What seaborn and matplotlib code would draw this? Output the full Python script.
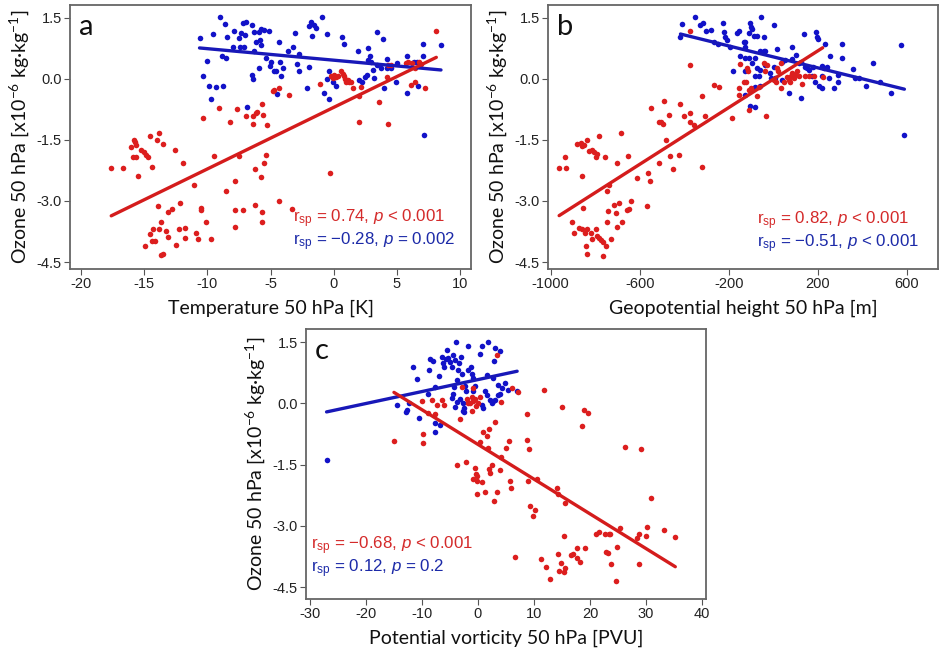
import matplotlib
matplotlib.use("Agg")
import matplotlib.pyplot as plt
import seaborn as sns
import pandas as pd

# ---------------- data ----------------
# Panel a: Temperature 50 hPa [K] vs ozone
a_red_x = [-17.63,-16.70,-15.83,-15.78,-16.04,-15.65,-15.30,-15.04,-14.85,-14.72,-15.91,-15.70,-15.51,-14.59,-14.04,-13.85,-13.53,-14.41,-12.61,-11.95,-11.03,-10.55,-10.50,-10.13,-9.71,-10.76,-10.92,-11.77,-11.77,-12.27,-12.48,-12.21,-12.82,-13.09,-13.32,-13.14,-13.85,-13.67,-13.93,-14.33,-14.59,-14.41,-14.14,-14.93,-13.72,-13.51,-10.37,-9.52,-9.10,-8.52,-8.18,-7.78,-7.81,-7.81,-7.65,-7.46,-7.15,-6.94,-6.36,-6.36,-6.14,-6.22,-6.07,-5.77,-5.64,-5.59,-5.51,-5.33,-5.25,-6.22,-5.67,-5.64,-4.82,
           8.15,-4.75,-4.30,-3.51,-1.06,-0.21,-0.08,0.05,0.18,0.37,0.58,0.71,0.79,0.90,0.98,1.11,1.24,1.42,1.58,2.16,2.03,1.98,3.59,4.28,4.33,4.54,4.22,5.73,5.91,6.25,6.44,6.78,6.91,6.12,6.44,7.26,-0.26,-4.33,-3.30]
a_red_y = [-2.20,-2.18,-1.50,-1.56,-1.67,-1.63,-1.76,-1.81,-1.86,-1.92,-1.92,-1.92,-2.39,-1.41,-1.50,-1.32,-1.61,-2.17,-1.76,-2.07,-2.61,-3.18,-3.21,-3.52,-3.93,-3.93,-3.78,-3.67,-3.91,-3.70,-4.09,-3.05,-3.19,-3.28,-3.74,-3.88,-3.70,-3.52,-3.13,-3.69,-3.81,-3.99,-3.99,-4.11,-4.33,-4.31,-0.96,-1.90,-0.71,-2.75,-1.07,-2.50,-3.23,-3.64,-0.74,-1.90,-3.23,-0.91,-0.92,-1.10,-0.84,-2.21,-0.82,-2.41,-0.63,-0.89,-2.08,-1.86,-1.13,-3.11,-3.26,-3.52,-0.29,
           1.16,-0.27,-0.23,-0.39,-0.14,0.06,0.02,0.10,0.04,0.07,0.18,0.12,0.06,-0.01,-0.07,-0.02,-0.09,-0.09,-0.23,-0.20,-0.43,-1.07,-0.56,-1.12,0.34,0.34,0.04,0.38,0.41,0.38,0.26,0.40,0.36,-0.16,-0.07,-0.23,-2.31,-3.01,-3.19]
a_blue_x = [-10.63,-9.55,-9.02,-8.60,-8.41,-7.91,-7.49,-7.31,-7.44,-7.07,-7.04,-7.17,-6.91,-6.49,-6.30,-6.17,-5.91,-5.75,-5.54,-5.85,-5.77,-6.33,-7.97,-8.81,-8.55,-10.05,-10.37,-9.89,-9.31,-8.78,-9.68,-6.86,-6.46,-6.38,-5.88,-5.38,-5.01,-4.75,
            -5.09,-4.36,-3.64,-3.25,-3.06,-2.72,-1.93,-1.80,-1.53,-1.40,-0.92,-1.72,-0.55,0.66,0.79,1.95,3.43,3.93,2.77,2.90,2.77,2.96,3.14,3.43,3.75,4.20,4.27,4.59,5.07,5.81,6.39,6.65,7.07,7.13,8.52,-4.96,-4.57,-4.22,-4.04,-4.17,-4.51,-2.90,-2.72,-1.98,-2.11,-0.79,-0.34,-0.48,-0.34,-0.08,0.18,2.03,2.24,2.48,2.64,3.22,4.01,4.99,5.86,6.73,7.18]
a_blue_y = [1.00,1.09,1.51,1.34,1.02,1.18,1.01,1.12,0.78,0.78,1.07,1.36,1.40,1.32,1.15,0.91,1.14,1.22,1.20,0.96,0.82,0.67,0.77,0.56,0.50,0.44,0.07,-0.19,-0.20,-0.19,-0.50,-0.70,0.08,-0.01,0.27,0.51,0.32,0.18,
            1.18,0.91,0.67,0.77,1.12,0.60,1.30,1.40,1.32,1.24,1.51,1.05,1.10,1.02,0.86,0.67,1.14,0.98,0.75,0.55,0.45,0.42,0.22,0.34,0.26,0.48,0.26,0.26,0.38,0.56,0.42,0.42,0.85,0.55,0.82,0.40,0.18,0.42,0.26,0.06,-0.37,0.36,0.20,0.30,-0.23,-0.35,-0.50,0.00,0.18,-0.07,-0.19,-0.02,-0.09,0.04,0.10,0.03,-0.23,-0.07,-0.35,-0.17,-1.37]

# Panel b: Geopotential height 50 hPa [m] vs ozone
b_red_x = [-962,-933,-937,-883,-865,-858,-850,-835,-828,-813,-806,-798,-791,-783,-758,-861,-704,-683,-653,-738,-746,-611,-563,-554,-514,-465,-451,-423,-484,-506,-495,-514,-548,-492,-469,-417,-402,-375,-375,-357,-320,-308,-320,-372,-372,-267,-243,-185,-155,-155,-148,-133,
           -853,-903,-895,-873,-858,-847,-835,-818,-813,-798,-791,-783,-776,-764,-753,-764,-843,-838,-731,-746,-743,-716,-693,-708,-701,-679,-659,-649,-638,-566,
           -118,-113,-122,-110,-98,-66,-108,-31,-43,-28,-36,17,21,2,14,36,46,61,69,76,81,84,91,99,106,114,129,144,159,181,36,-73,222]
b_red_y = [-2.20,-2.18,-1.92,-1.61,-1.58,-1.66,-1.63,-1.50,-1.78,-1.76,-1.81,-1.92,-1.84,-1.41,-1.92,-2.39,-2.07,-1.32,-1.89,-2.61,-2.75,-2.43,-2.31,-2.51,-2.08,-1.90,-2.21,-1.86,-1.50,-1.07,-1.12,-1.05,-0.71,-0.55,-0.88,-0.63,-0.92,-0.83,-1.07,-1.13,-0.43,-0.91,-2.17,0.34,1.16,-0.16,-0.20,-0.96,-0.23,-0.39,0.37,-0.07,
           -3.18,-3.52,-3.78,-3.67,-3.70,-3.78,-3.70,-3.78,-3.93,-3.70,-3.87,-3.91,-3.96,-4.01,-4.11,-4.34,-4.11,-4.31,-3.93,-3.52,-3.24,-3.11,-3.05,-3.29,-3.64,-3.52,-3.21,-3.19,-3.01,-3.13,
           0.26,0.18,-0.07,-0.27,-0.23,-0.20,-0.76,-0.91,0.38,0.34,0.18,0.26,0.20,-0.02,-0.07,-0.23,-0.07,0.04,-0.02,-0.09,0.07,0.14,0.02,0.10,0.18,0.07,-0.12,0.06,0.07,0.07,0.38,-0.43,0.05]
b_blue_x = [-417,-409,-350,-330,-317,-300,-279,-267,-248,-223,-226,-215,-208,-196,-163,-155,-133,-181,-151,-125,-125,-128,
            -103,-99,-96,-54,-111,-88,-73,-43,2,-125,-125,-58,-43,-36,17,84,102,84,54,39,136,191,196,203,233,308,573,-111,-81,-96,-73,-58,-36,2,-13,-81,-66,-81,-103,-84,-58,-9,9,39,69,124,117,126,144,151,159,177,218,226,241,173,218,186,206,218,251,256,271,293,290,308,357,365,383,417,450,480,529,589]
b_blue_y = [1.02,1.34,1.51,1.32,1.36,1.18,1.20,0.91,0.86,1.14,1.38,1.02,0.96,0.79,1.12,1.16,0.91,0.20,0.56,0.51,0.18,-0.39,
            1.38,1.28,1.22,1.51,1.12,1.04,1.05,1.02,1.32,0.91,0.79,0.67,0.67,0.69,0.73,0.77,0.59,0.48,0.47,0.40,1.10,1.14,1.02,0.97,0.86,0.85,0.82,0.51,0.51,0.38,0.26,0.22,0.34,0.30,0.15,0.06,0.06,-0.20,-0.66,-0.69,-0.17,0.02,0.02,-0.04,-0.35,-0.48,0.38,0.42,0.30,0.26,0.22,0.30,0.32,0.26,0.29,0.07,0.07,-0.07,-0.17,-0.23,0.02,0.55,-0.23,0.10,-0.09,0.51,0.24,0.03,0.02,-0.17,0.38,-0.09,-0.35,-1.37]

# Panel c: Potential vorticity 50 hPa [PVU] vs ozone
c_red_x = [-15.0,-9.87,-9.75,-8.86,-7.61,-10.05,-8.26,-7.37,-6.00,-6.48,-3.20,-2.90,-2.01,-1.71,-1.41,-1.12,-0.94,-0.82,-0.52,-0.34,-1.12,0.08,0.37,0.85,1.56,2.04,0.37,1.86,-3.79,-2.19,-0.52,-0.22,-0.82,-0.10,0.67,-0.34,-0.22,1.27,2.04,2.16,2.45,2.87,
           3.36,6.04,7.23,4.13,3.06,11.82,8.72,14.97,18.84,19.56,18.55,5.56,4.97,8.78,9.02,4.13,4.01,3.36,5.74,5.92,8.90,10.5,14.08,14.26,15.45,9.37,10.21,9.79,26.29,29.15,30.93,15.27,21.05,21.52,22.71,23.31,23.61,25.39,28.37,28.67,30.16,29.98,33.26,35.22,6.63,11.22,12.11,12.89,14.2,14.5,15.27,15.45,14.73,16.64,16.94,17.65,17.65,18.25,19.14,22.89,23.19,23.79,24.86,24.68,28.79]
c_red_y = [-0.92,-0.74,-0.96,-0.24,-0.27,0.06,0.08,-0.04,-0.03,0.08,-0.38,0.41,0.11,0.02,0.00,0.16,0.37,0.06,0.11,-0.06,-0.19,0.00,0.16,-0.70,-0.79,-0.63,-0.94,-1.09,-1.50,-1.43,-1.59,-1.77,-1.85,-1.90,-1.92,-1.74,-2.21,-2.17,-1.61,-1.70,-1.50,-2.39,
           1.18,0.37,0.27,0.04,-0.45,0.33,-0.25,-0.08,-0.16,-0.24,-0.56,-0.91,-1.10,-0.89,-1.13,-1.31,-1.62,-2.18,-1.90,-2.07,-1.90,-1.85,-2.08,-2.21,-2.43,-2.51,-2.62,-2.76,-1.08,-1.13,-2.31,-3.24,-3.20,-3.15,-3.20,-3.19,-3.20,-3.05,-3.29,-3.19,-3.02,-3.24,-3.11,-3.26,-3.76,-3.80,-4.00,-4.31,-3.69,-4.10,-4.13,-4.02,-3.91,-3.72,-3.70,-3.54,-3.78,-3.88,-3.53,-3.64,-3.67,-3.93,-3.52,-4.34,-3.93]
c_blue_x = [-27.03,-14.52,-12.85,-12.61,-12.31,-11.54,-10.94,-10.53,-8.92,-8.56,-8.68,-8.09,-7.67,-6.78,-7.67,-7.67,-6.89,-6.48,-6.18,-6.06,-5.76,-5.58,-5.29,-4.99,-4.69,-4.51,-4.10,-3.92,-4.27,-3.80,-3.50,-3.32,-2.96,-2.79,-2.60,-2.72,-2.43,-2.25,-2.13,-1.83,-1.71,-1.29,-1.12,-0.82,-0.52,-3.80,-3.20,-4.10,-4.69,-4.39,-2.49,0.37,0.79,1.86,3.05,2.87,1.27,1.68,2.16,2.45,2.75,0.67,0.97,-0.82,1.56,2.63,
            3.95,3.66,4.25,4.85,5.32,3.95,3.54,6.99,3.06]
c_blue_y = [-1.38,-0.04,-0.22,-0.16,0.02,0.90,0.60,-0.35,0.22,1.09,0.82,1.04,-0.49,-0.52,-0.70,0.41,0.68,1.14,0.98,0.90,1.09,1.31,1.12,1.02,0.90,1.18,1.06,1.49,0.41,0.57,0.82,0.98,1.13,0.73,0.00,-0.19,-0.22,0.43,0.30,1.40,0.82,0.90,0.71,0.61,0.43,0.04,0.11,-0.08,0.14,0.22,-0.12,1.20,1.41,1.51,1.35,1.04,0.30,0.20,0.08,0.02,0.06,-0.04,-0.12,0.29,0.69,0.61,
            1.28,0.45,0.37,0.49,0.33,0.24,0.20,0.31,0.08]

x_labels = ["Temperature 50 hPa [K]", "Geopotential height 50 hPa [m]", "Potential vorticity 50 hPa [PVU]"]
y_label = "Ozone 50 hPa [x10$^{\\mathregular{-6}}$ kg\u00b7kg$^{\\mathregular{-1}}$]"
panel_letters = ["a", "b", "c"]
x_ticks = [[-20, -15, -10, -5, 0, 5, 10], [-1000, -600, -200, 200, 600], [-30, -20, -10, 0, 10, 20, 30, 40]]
y_ticks = [1.5, 0.0, -1.5, -3.0, -4.5]
stats_red = ["0.74", "0.82", "\u22120.68"]
stats_red_p = ["< 0.001", "< 0.001", "< 0.001"]
stats_blue = ["\u22120.28", "\u22120.51", "0.12"]
stats_blue_p = ["= 0.002", "< 0.001", "= 0.2"]

# ---------------- style ----------------
sns.set_theme(style="white")
plt.rcParams["font.family"] = ["Liberation Sans", "DejaVu Sans"]
plt.rcParams["mathtext.fontset"] = "custom"
plt.rcParams["mathtext.rm"] = "Liberation Sans"
plt.rcParams["mathtext.it"] = "Liberation Sans:italic"
plt.rcParams["axes.unicode_minus"] = False

RED_PT = "#dc1e1e"
BLUE_PT = "#1212c8"
RED_LN = "#d41c1c"
BLUE_LN = "#1818b8"
RED_TX = "#d42a2a"
BLUE_TX = "#1c2aa8"
LABEL_FONT = ["Lato", "DejaVu Sans"]

fig = plt.figure(figsize=(9.49, 6.5), dpi=100)
positions = [
    [70/949, 1-269/650, 401/949, 264/650],
    [548/949, 1-269/650, 390/949, 264/650],
    [306/949, 1-599/650, 400/949, 270/650],
]
xlims = [(-20.9, 10.9), (-1012, 740), (-30.7, 40.7)]
ylims = [(-4.67, 1.81), (-4.67, 1.81), (-4.79, 1.82)]
text_pos = [(0.556, 0.192, 0.104), (0.536, 0.184, 0.096), (0.012, 0.199, 0.113)]

data = [
    (a_red_x, a_red_y, a_blue_x, a_blue_y),
    (b_red_x, b_red_y, b_blue_x, b_blue_y),
    (c_red_x, c_red_y, c_blue_x, c_blue_y),
]

for i, (rx, ry, bx, by) in enumerate(data):
    ax = fig.add_axes(positions[i])
    red = pd.DataFrame({"x": rx, "y": ry})
    blue = pd.DataFrame({"x": bx, "y": by})
    sns.scatterplot(data=blue, x="x", y="y", ax=ax, color=BLUE_PT, s=16, linewidth=0, zorder=2)
    sns.scatterplot(data=red, x="x", y="y", ax=ax, color=RED_PT, s=16, linewidth=0, zorder=3)
    sns.regplot(data=blue, x="x", y="y", ax=ax, scatter=False, ci=None, truncate=True,
                line_kws={"color": BLUE_LN, "lw": 2.4, "zorder": 4})
    sns.regplot(data=red, x="x", y="y", ax=ax, scatter=False, ci=None, truncate=True,
                line_kws={"color": RED_LN, "lw": 2.4, "zorder": 5})
    ax.set_xlim(*xlims[i])
    ax.set_ylim(*ylims[i])
    ax.set_xticks(x_ticks[i])
    ax.set_xticklabels([str(t) for t in x_ticks[i]])
    ax.set_yticks(y_ticks)
    ax.set_yticklabels([f"{t:.1f}" for t in y_ticks])
    ax.tick_params(axis="both", which="major", direction="out", length=4, width=0.8,
                   color="#555555", labelsize=10.5, labelcolor="#222222", pad=2,
                   bottom=True, left=True)
    for sp in ax.spines.values():
        sp.set_color("#666666")
        sp.set_linewidth(1.3)
    ax.set_xlabel(x_labels[i], fontsize=14, family=LABEL_FONT, color="#111111", labelpad=6)
    ax.set_ylabel(y_label, fontsize=14, family=LABEL_FONT, color="#111111", labelpad=4)
    ax.text(0.022, 0.965, panel_letters[i], transform=ax.transAxes, fontsize=21,
            family=LABEL_FONT, va="top", ha="left", color="#111111")
    tx, ty1, ty2 = text_pos[i]
    ax.text(tx, ty1, "r$_{\\mathregular{sp}}$ = " + stats_red[i] + ", $\\mathit{p}$ " + stats_red_p[i],
            transform=ax.transAxes, fontsize=12.2, color=RED_TX, va="center", ha="left")
    ax.text(tx, ty2, "r$_{\\mathregular{sp}}$ = " + stats_blue[i] + ", $\\mathit{p}$ " + stats_blue_p[i],
            transform=ax.transAxes, fontsize=12.2, color=BLUE_TX, va="center", ha="left")

fig.savefig("out.png", dpi=100, facecolor="white")
